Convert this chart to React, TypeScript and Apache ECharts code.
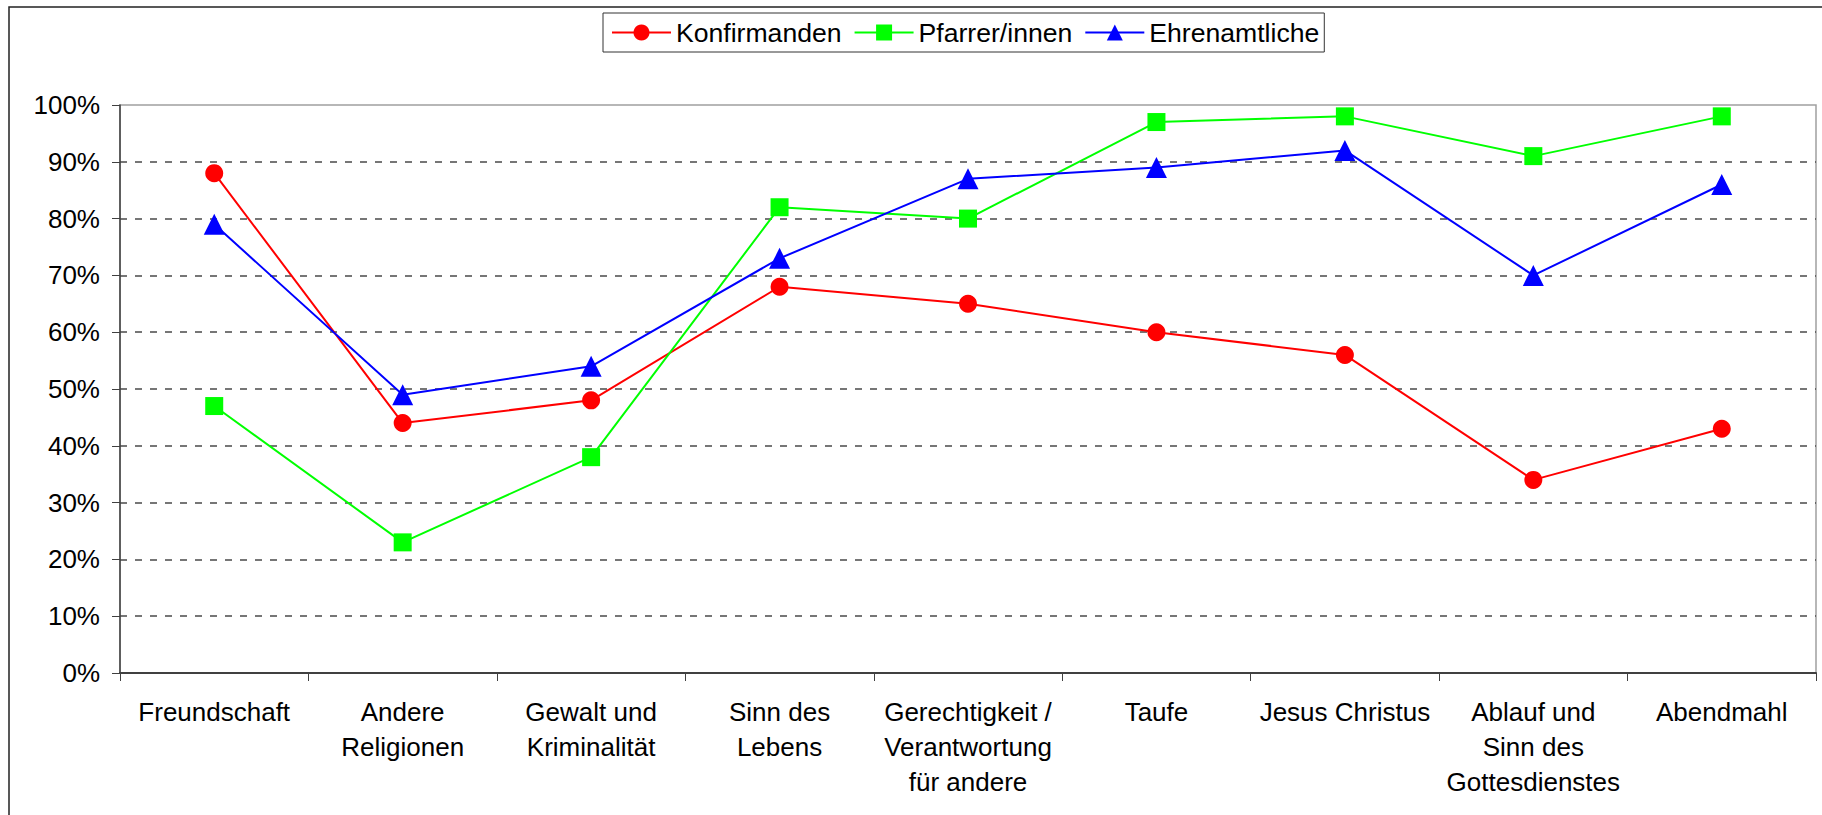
import React, { useEffect, useRef } from "react";
import * as echarts from "echarts";

const categories = [
  "Freundschaft",
  "Andere\nReligionen",
  "Gewalt und\nKriminalität",
  "Sinn des\nLebens",
  "Gerechtigkeit /\nVerantwortung\nfür andere",
  "Taufe",
  "Jesus Christus",
  "Ablauf und\nSinn des\nGottesdienstes",
  "Abendmahl",
];

const konfirmanden = [88, 44, 48, 68, 65, 60, 56, 34, 43];
const pfarrer = [47, 23, 38, 82, 80, 97, 98, 91, 98];
const ehrenamtliche = [79, 49, 54, 73, 87, 89, 92, 70, 86];

const seriesNames = ["Konfirmanden", "Pfarrer/innen", "Ehrenamtliche"];

const FONT = "'Liberation Sans', Arial, Helvetica, sans-serif";

export default function App() {
  const ref = useRef<HTMLDivElement>(null);

  useEffect(() => {
    if (!ref.current) return;
    const chart = echarts.init(ref.current, null, { renderer: "svg" });
    const mk = (name: string, data: number[], color: string, symbol: string, size: number) => ({
      name,
      type: "line",
      data,
      symbol,
      symbolSize: size,
      showSymbol: true,
      itemStyle: { color, borderWidth: 0 },
      lineStyle: { color, width: 2 },
      emphasis: { disabled: true },
    });
    chart.setOption({
      animation: false,
      backgroundColor: "#ffffff",
      textStyle: { fontFamily: FONT },
      graphic: [
        {
          type: "rect",
          shape: { x: 9, y: 7, width: 1830, height: 900 },
          style: { fill: "none", stroke: "#222", lineWidth: 1.5 },
          silent: true,
        },
      ],
      legend: {
        left: 603,
        top: 13,
        padding: [6, 5, 6, 8],
        borderColor: "#333",
        borderWidth: 1,
        itemWidth: 59,
        itemHeight: 20,
        itemGap: 12,
        textStyle: { fontSize: 26.6, color: "#000", fontFamily: FONT },
        data: seriesNames,
      },
      grid: {
        left: 120,
        right: 6,
        top: 105,
        bottom: 142,
        show: true,
        borderColor: "#a0a0a0",
        borderWidth: 1.5,
        backgroundColor: "transparent",
      },
      xAxis: {
        type: "category",
        data: categories,
        boundaryGap: true,
        axisLine: { show: true, lineStyle: { color: "#404040", width: 2 } },
        axisTick: { show: true, length: 8, lineStyle: { color: "#404040", width: 1 } },
        axisLabel: {
          interval: 0,
          margin: 21,
          fontSize: 26,
          lineHeight: 35,
          color: "#000",
          fontFamily: FONT,
          align: "center",
        },
        splitLine: { show: false },
      },
      yAxis: {
        type: "value",
        min: 0,
        max: 100,
        interval: 10,
        axisLine: { show: true, lineStyle: { color: "#404040", width: 1.5 } },
        axisTick: { show: true, length: 8, lineStyle: { color: "#404040", width: 1 } },
        axisLabel: {
          formatter: "{value}%",
          margin: 20,
          fontSize: 26,
          color: "#000",
          fontFamily: FONT,
        },
        splitLine: {
          show: true,
          showMinLine: false,
          showMaxLine: false,
          lineStyle: { color: "#4a4a4a", width: 1.5, type: [7, 8] },
        },
      },
      series: [
        mk(seriesNames[0], konfirmanden, "#ff0000", "circle", 18),
        mk(seriesNames[1], pfarrer, "#00ff00", "rect", 18),
        mk(seriesNames[2], ehrenamtliche, "#0000ff", "triangle", 21),
      ],
    });
    return () => chart.dispose();
  }, []);

  return (
    <div
      ref={ref}
      style={{ position: "absolute", left: 0, top: 0, width: 1822, height: 815 }}
    />
  );
}
